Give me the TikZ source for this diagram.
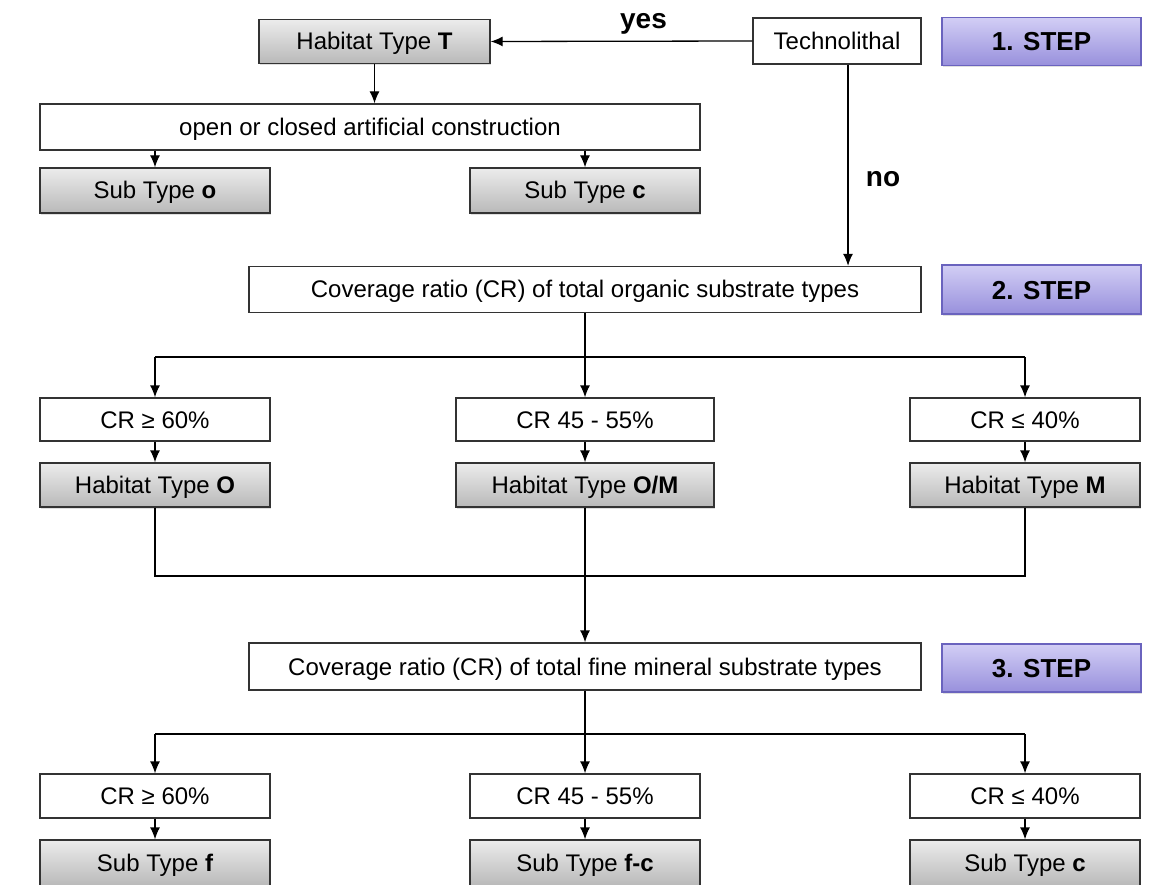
\documentclass[tikz,border=0pt]{standalone}
\usepackage{fontspec}
\setmainfont{Liberation Sans}
\usetikzlibrary{arrows.meta,shadows}

\definecolor{steptop}{HTML}{D2CEF5}
\definecolor{stepbot}{HTML}{9890DC}
\definecolor{stepline}{HTML}{6A63BE}
\definecolor{boxline}{HTML}{333333}

\begin{document}
\begin{tikzpicture}[x=1pt,y=-1pt,
    font=\fontsize{24}{28}\selectfont,
    line width=1.3pt,
    >={Latex[length=12pt,width=10pt]},
    plainbox/.style={draw=boxline,fill=white,inner sep=0pt,minimum height=44pt,
      text height=17pt,text depth=0pt},
    graybox/.style={draw=boxline,top color=gray!15,bottom color=gray!55,inner sep=0pt,
      minimum height=44pt,text height=17pt,text depth=0pt,
      drop shadow={shadow xshift=1pt,shadow yshift=-2pt,opacity=0.25}},
    stepbox/.style={draw=stepline,top color=steptop,bottom color=stepbot,inner sep=0pt,
      minimum width=199pt,minimum height=48pt,font=\fontsize{26}{30}\selectfont\bfseries,
      text height=19pt,text depth=0pt,
      drop shadow={shadow xshift=1pt,shadow yshift=-2pt,opacity=0.25}},
    answer/.style={font=\fontsize{28}{32}\selectfont\bfseries}]
  \useasboundingbox (0,0) rectangle (1161,885);

  % 1. step
  \node[graybox,minimum width=231pt] (habT) at (374.5,41.5) {Habitat Type \textbf{T}};
  \node[plainbox,minimum width=168pt,minimum height=46pt] (techno) at (837,41) {Technolithal};
  \node[stepbox] (step1) at (1041.5,41.5) {1. STEP};
  \node[plainbox,minimum width=660pt,minimum height=46pt] (artif) at (370,127) {open or closed artificial construction};
  \node[graybox,minimum width=230pt,minimum height=45pt] (subo) at (155,190.5) {Sub Type \textbf{o}};
  \node[graybox,minimum width=230pt,minimum height=45pt] (subc) at (585,190.5) {Sub Type \textbf{c}};

  \draw[->] (techno.west) -- (habT.east) node[answer,midway,above=3pt,xshift=22pt] (yes) {yes};
  \draw[->] (habT.south) -- (artif.north -| habT.south);
  \draw[->] (subo.north |- artif.south) -- (subo.north);
  \draw[->] (subc.north |- artif.south) -- (subc.north);

  % 2. step
  \node[plainbox,minimum width=672pt,minimum height=46pt] (covorg) at (585,289.5) {Coverage ratio (CR) of total organic substrate types};
  \node[stepbox,minimum height=49pt] (step2) at (1041.5,289.5) {2. STEP};
  \draw[->] ([xshift=11pt]techno.south) -- ([xshift=11pt]techno.south |- covorg.north)
    node[answer,pos=0.57,right=14pt] (no) {no};

  \node[plainbox,minimum width=230pt,minimum height=43pt] (orgA) at (155,419.5) {CR ≥ 60\%};
  \node[plainbox,minimum width=258pt,minimum height=43pt] (orgB) at (585,419.5) {CR 45 - 55\%};
  \node[plainbox,minimum width=230pt,minimum height=43pt] (orgC) at (1025,419.5) {CR ≤ 40\%};
  \node[graybox,minimum width=230pt] (habO) at (155,485) {Habitat Type \textbf{O}};
  \node[graybox,minimum width=258pt] (habOM) at (585,485) {Habitat Type \textbf{O/M}};
  \node[graybox,minimum width=230pt] (habM) at (1025,485) {Habitat Type \textbf{M}};

  \draw (covorg.south) -- (covorg.south |- 0,357) coordinate (bus1);
  \draw (orgA.north |- bus1) -- (orgC.north |- bus1);
  \draw[->] (orgA.north |- bus1) -- (orgA.north);
  \draw[->] (bus1) -- (orgB.north);
  \draw[->] (orgC.north |- bus1) -- (orgC.north);
  \draw[->] (orgA) -- (habO);
  \draw[->] (orgB) -- (habOM);
  \draw[->] (orgC) -- (habM);

  % 3. step
  \node[plainbox,minimum width=672pt,minimum height=47pt] (covmin) at (585,666.5) {Coverage ratio (CR) of total fine mineral substrate types};
  \node[stepbox] (step3) at (1041.5,668) {3. STEP};

  \draw (habO.south) -- (habO.south |- 0,576) -- (habM.south |- 0,576) -- (habM.south);
  \draw[->] (habOM.south) -- (covmin.north);

  \node[plainbox,minimum width=230pt] (minA) at (155,796) {CR ≥ 60\%};
  \node[plainbox,minimum width=230pt] (minB) at (585,796) {CR 45 - 55\%};
  \node[plainbox,minimum width=230pt] (minC) at (1025,796) {CR ≤ 40\%};
  \node[graybox,minimum width=230pt,minimum height=46pt] (subf) at (155,863) {Sub Type \textbf{f}};
  \node[graybox,minimum width=230pt,minimum height=46pt] (subfc) at (585,863) {Sub Type \textbf{f-c}};
  \node[graybox,minimum width=230pt,minimum height=46pt] (subc2) at (1025,863) {Sub Type \textbf{c}};

  \draw (covmin.south) -- (covmin.south |- 0,734) coordinate (bus2);
  \draw (minA.north |- bus2) -- (minC.north |- bus2);
  \draw[->] (minA.north |- bus2) -- (minA.north);
  \draw[->] (bus2) -- (minB.north);
  \draw[->] (minC.north |- bus2) -- (minC.north);
  \draw[->] (minA) -- (subf);
  \draw[->] (minB) -- (subfc);
  \draw[->] (minC) -- (subc2);
\end{tikzpicture}
\end{document}
